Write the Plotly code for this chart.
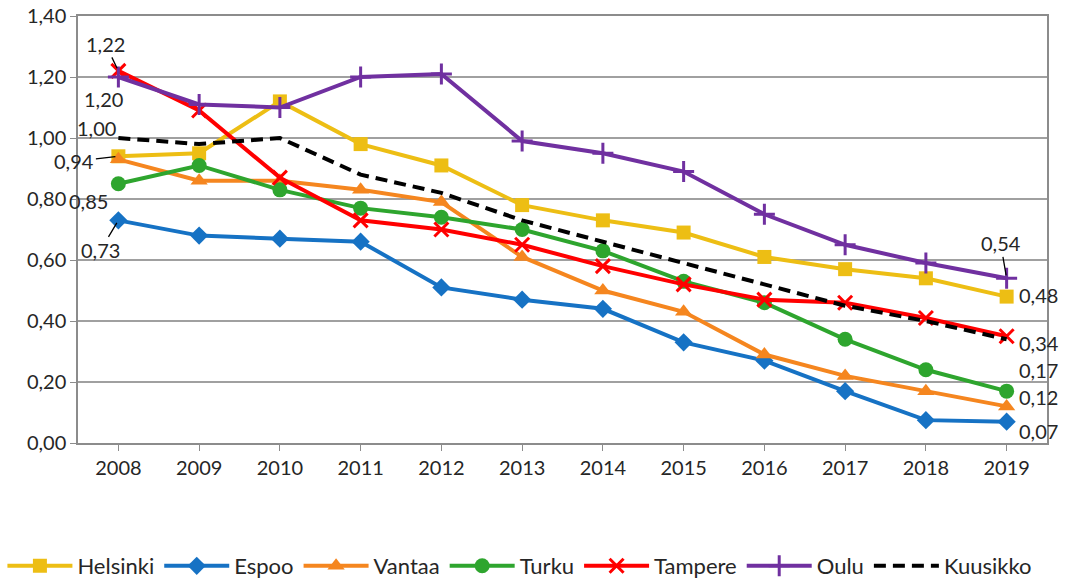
import plotly.graph_objects as go

years = [2008, 2009, 2010, 2011, 2012, 2013, 2014, 2015, 2016, 2017, 2018, 2019]
helsinki = [0.94, 0.95, 1.12, 0.98, 0.91, 0.78, 0.73, 0.69, 0.61, 0.57, 0.54, 0.48]
espoo = [0.73, 0.68, 0.67, 0.66, 0.51, 0.47, 0.44, 0.33, 0.27, 0.17, 0.075, 0.07]
vantaa = [0.93, 0.86, 0.86, 0.83, 0.79, 0.61, 0.50, 0.43, 0.29, 0.22, 0.17, 0.12]
turku = [0.85, 0.91, 0.83, 0.77, 0.74, 0.70, 0.63, 0.53, 0.46, 0.34, 0.24, 0.17]
tampere = [1.22, 1.09, 0.87, 0.73, 0.70, 0.65, 0.58, 0.52, 0.47, 0.46, 0.41, 0.35]
oulu = [1.20, 1.11, 1.10, 1.20, 1.21, 0.99, 0.95, 0.89, 0.75, 0.65, 0.59, 0.54]
kuusikko = [1.00, 0.98, 1.00, 0.88, 0.82, 0.73, 0.66, 0.59, 0.52, 0.45, 0.40, 0.34]

FONT = "Lato"
TXT = "#262626"
series = [
    ("Helsinki", helsinki, "#EDBE14", "square", 14, None),
    ("Espoo", espoo, "#1672C4", "diamond", 14, None),
    ("Vantaa", vantaa, "#F5861F", "triangle-up", 15, None),
    ("Turku", turku, "#2EA52E", "circle", 15, None),
    ("Tampere", tampere, "#FF0000", "x-thin", 14, None),
    ("Oulu", oulu, "#7030A0", "cross-thin", 15, None),
    ("Kuusikko", kuusikko, "#000000", None, 0, "12px,7px"),
]

fig = go.Figure()
for name, vals, col, sym, size, dash in series:
    if sym is None:
        fig.add_trace(go.Scatter(x=years, y=vals, name=name, mode="lines",
                                 line=dict(color=col, width=4, dash=dash)))
    else:
        marker = dict(symbol=sym, size=size, color=col)
        if sym.endswith("-thin"):
            marker["line"] = dict(color=col, width=3)
        fig.add_trace(go.Scatter(x=years, y=vals, name=name, mode="lines+markers",
                                 line=dict(color=col, width=4), marker=marker))

def fmt(v):
    return f"{v:.2f}".replace(".", ",")

# (values, index, dx, dy, leader)
labels = [
    (tampere, 0, -13, -27, True),
    (oulu, 0, -15, 22, False),
    (kuusikko, 0, -22, -10, False),
    (helsinki, 0, -44, 5, True),
    (turku, 0, -30, 17, False),
    (espoo, 0, -18, 30, True),
    (oulu, 11, -6, -35, True),
    (helsinki, 11, 32, -2, False),
    (kuusikko, 11, 32, 4, False),
    (turku, 11, 32, -21, False),
    (vantaa, 11, 32, -9, False),
    (espoo, 11, 32, 9, False),
]
for vals, i, dx, dy, leader in labels:
    if leader:
        fig.add_annotation(x=years[i], y=vals[i], text=fmt(vals[i]), showarrow=True,
                           arrowhead=0, arrowwidth=1.3, arrowcolor="#000000",
                           ax=dx, ay=dy, standoff=3,
                           font=dict(family=FONT, size=20, color=TXT))
    else:
        fig.add_annotation(x=years[i], y=vals[i], text=fmt(vals[i]), showarrow=False,
                           xshift=dx, yshift=-dy,
                           font=dict(family=FONT, size=20, color=TXT))

fig.update_layout(
    width=1065, height=583,
    margin=dict(l=78, r=18, t=16, b=140, autoexpand=False),
    paper_bgcolor="white", plot_bgcolor="white",
    font=dict(family=FONT, size=20, color=TXT),
    showlegend=True,
    legend=dict(orientation="h", x=-0.078, xanchor="left", y=-0.288, yanchor="middle",
                font=dict(family=FONT, size=22, color=TXT), itemwidth=65,
                tracegroupgap=0),
    xaxis=dict(range=[2007.5, 2019.5], tickvals=years, ticktext=[str(y) for y in years],
               showgrid=False, showline=True, linecolor="#8C8C8C",
               linewidth=1.5, mirror=True, ticks="outside", ticklen=6, tickcolor="#8C8C8C",
               tickfont=dict(family=FONT, size=20, color=TXT), zeroline=False),
    yaxis=dict(range=[0, 1.4], tickvals=[0, 0.2, 0.4, 0.6, 0.8, 1.0, 1.2, 1.4],
               ticktext=["0,00", "0,20", "0,40", "0,60", "0,80", "1,00", "1,20", "1,40"],
               ticklabeloverflow="allow",
               showgrid=True,
               gridcolor="#A0A0A0", gridwidth=1.5, showline=True, linecolor="#8C8C8C",
               linewidth=1.5, mirror=True, ticks="outside", ticklen=6, tickcolor="#8C8C8C",
               tickfont=dict(family=FONT, size=20, color=TXT), zeroline=False),
)

# remove the default 8px page margin so the figure fills the window exactly
fig.write_html("out.html", config={"displayModeBar": False},
               post_script="document.body.style.margin='0';document.body.style.overflow='hidden';")
